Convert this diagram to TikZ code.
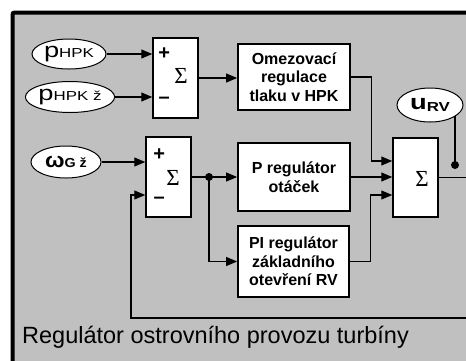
\documentclass[tikz,border=0pt]{standalone}
\usepackage{fontspec}
\setmainfont{Liberation Sans}
\newfontfamily\sigmafont{Liberation Serif}
\usetikzlibrary{shapes.geometric,arrows.meta}
\definecolor{panelgray}{HTML}{C0C0C0}
% #1 raise of subscript, #2 main symbol, #3 subscript, #4 horizontal scale
\newcommand{\elab}[4][0pt]{\scalebox{#4}[1]{{\fontsize{21}{21}\selectfont #2}\raisebox{#1}{\fontsize{13}{13}\selectfont #3}}}
\begin{document}
\begin{tikzpicture}[x=1pt,y=-1pt,
  blk/.style={draw=black,fill=white,line width=1.8pt,rectangle,inner sep=0pt,align=center,
     font=\fontsize{16}{18.5}\selectfont\bfseries},
  sumbox/.style={draw=black,fill=white,line width=1.5pt,rectangle,inner sep=0pt,
     minimum width=45pt,minimum height=80pt},
  sig/.style={inner sep=0pt,font=\sigmafont\fontsize{23}{23}\selectfont},
  sgn/.style={inner sep=0pt,font=\bfseries\fontsize{20}{20}\selectfont},
  ell/.style={draw=black,fill=white,line width=1pt,ellipse,inner sep=0pt},
  conn/.style={line width=1.1pt},
  arr/.style={conn,-{Triangle[length=11pt,width=9pt]}},
  dotc/.style={circle,fill=black,inner sep=0pt,minimum size=8pt}]
\useasboundingbox (0,0) rectangle (466,360);
\clip (0,0) rectangle (466,360);
% panel
\fill[panelgray] (12.5,12.5) rectangle (490,390);
\draw[line width=4pt,rounded corners=2pt] (12.5,390) -- (12.5,12.5) -- (490,12.5);

% input ellipses
\node[ell,minimum width=74pt,minimum height=30pt] (e1) at (69,54) {\elab{p}{HPK}{1.3}};
\node[ell,minimum width=73pt,minimum height=31pt] (e2) at (70,97) {\elab{p}{HPK ž}{1.3}};
\node[ell,minimum width=70pt,minimum height=32pt] (e3) at (66,162) {\bfseries\elab{ω}{G ž}{1.1}};
\node[ell,minimum width=66pt,minimum height=34pt] (urv) at (430,105) {\bfseries\elab[-1.5pt]{u}{RV}{1.3}};

% summation blocks
\node[sumbox] (s1) at (175.5,78) {};
\node[sig] at ([xshift=5.5pt,yshift=2pt]s1.center) {Σ};
\node[sgn] at ([xshift=12pt,yshift=-16pt]s1.north west) {+};
\node[sgn] at ([xshift=12pt,yshift=18pt]s1.south west) {–};

\node[sumbox] (s2) at (168.5,177) {};
\node[sig] at ([xshift=4.5pt,yshift=-1pt]s2.center) {Σ};
\node[sgn] at ([xshift=14pt,yshift=-18pt]s2.north west) {+};
\node[sgn] at ([xshift=14pt,yshift=17pt]s2.south west) {–};

\node[sumbox,minimum height=79pt] (s3) at (415.5,177.5) {};
\node[sig] at ([xshift=6.5pt,yshift=-1pt]s3.center) {Σ};

% regulator blocks
\node[blk,minimum width=112pt,minimum height=66pt] (om) at (294,77) {Omezovací\\regulace\\tlaku v HPK};
\node[blk,minimum width=112pt,minimum height=68pt] (pr) at (294,177) {P regulátor\\otáček};
\node[blk,minimum width=111pt,minimum height=71pt] (pi) at (293.5,261.5) {PI regulátor\\základního\\otevření RV};

% dots and free ends
\node[dotc] (d1) at (209,177) {};
\node[dotc] (d2) at (455,165) {};
\coordinate (fbstart) at (480,318);
\coordinate (fbcorner) at (131,318);
\coordinate (out) at (480,177.5);

% connectors
\draw[arr] (e1.east) -- (e1.east -| s1.west);
\draw[arr] (e2.east) -- (e2.east -| s1.west);
\draw[arr] (s1.east) -- (s1.east -| om.west);
\draw[arr] (om.east) -- ++(21,0) |- ([yshift=16.5pt]s3.west);
\draw[arr] (pr.east) -- (pr.east -| s3.west);
\draw[arr] (pi.east) -- ++(21,0) |- ([yshift=-17.5pt]s3.west);
\draw[arr] (e3.east) -- (e3.east -| s2.west);
\draw[conn] (s2.east) -- (d1.center);
\draw[arr] (d1.center) -- (d1 -| pr.west);
\draw[arr] (d1.center) |- (pi.west);
\draw[arr] (fbstart) -- (fbcorner) |- ([yshift=-18pt]s2.west);
\draw[conn] (s3.east) -- (out);
\draw[conn] (d2.center) -- (d2 |- urv.-24);

% caption
\node[anchor=base west,inner sep=0pt,font=\fontsize{23.5}{23.5}\selectfont] (cap) at (22,343) {Regulátor ostrovního provozu turbíny};
\end{tikzpicture}
\end{document}
